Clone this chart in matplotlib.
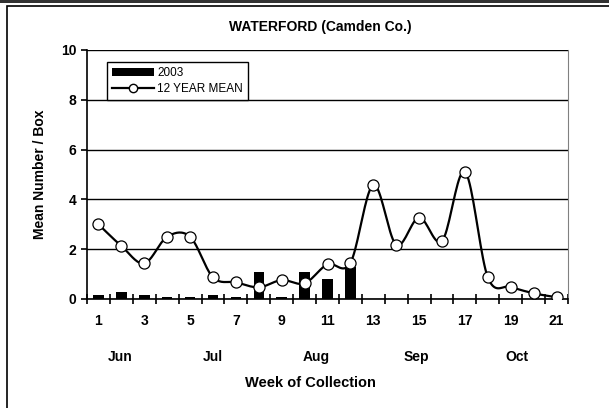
import numpy as np
import matplotlib
matplotlib.use('Agg')
import matplotlib.pyplot as plt
from matplotlib.patches import Rectangle
from matplotlib.lines import Line2D
import matplotlib.transforms as mtransforms

plt.rcParams['font.family'] = ['Liberation Sans', 'DejaVu Sans']

# data
weeks = list(range(1, 22))
bars_2003 = [0.18, 0.27, 0.18, 0.08, 0.08, 0.18, 0.08, 1.07, 0.08, 1.07, 0.79, 1.3,
             0, 0, 0, 0, 0, 0, 0, 0, 0]
mean_12yr = [3.0, 2.13, 1.43, 2.5, 2.5, 0.87, 0.67, 0.47, 0.76, 0.63, 1.39, 1.45,
             4.58, 2.18, 3.27, 2.33, 5.11, 0.87, 0.49, 0.23, 0.07]
tick_labels = ['1', '3', '5', '7', '9', '11', '13', '15', '17', '19', '21']
months = ['Jun', 'Jul', 'Aug', 'Sep', 'Oct']
month_pos = [1.95, 6.0, 10.5, 14.87, 19.27]


def smooth(x, y, n=20):
    # catmull-rom style smoothing like excel's smoothed line
    x = np.asarray(x, float)
    y = np.asarray(y, float)
    px = np.concatenate([[x[0]], x, [x[-1]]])
    py = np.concatenate([[y[0]], y, [y[-1]]])
    xs, ys = [], []
    t = np.linspace(0, 1, n)
    for i in range(1, len(px) - 2):
        p0 = np.array([px[i], py[i]])
        p3 = np.array([px[i + 1], py[i + 1]])
        c1 = p0 + (np.array([px[i + 1], py[i + 1]]) - np.array([px[i - 1], py[i - 1]])) / 6
        c2 = p3 - (np.array([px[i + 2], py[i + 2]]) - np.array([px[i], py[i]])) / 6
        b = ((1 - t) ** 3)[:, None] * p0 + (3 * (1 - t) ** 2 * t)[:, None] * c1 \
            + (3 * (1 - t) * t ** 2)[:, None] * c2 + (t ** 3)[:, None] * p3
        xs.extend(b[:, 0])
        ys.extend(b[:, 1])
    return np.array(xs), np.array(ys)


fig = plt.figure(figsize=(6.09, 4.08), dpi=100)
ax = fig.add_axes([87 / 609, 1 - 299 / 408, 481 / 609, 249 / 408])

# frame around the chart
fig.patches.append(Rectangle((7 / 609, -0.1), 1.2, 1 - 6 / 408 + 0.1, transform=fig.transFigure,
                             fill=False, edgecolor='black', linewidth=1.2))
fig.patches.append(Rectangle((0, 1 - 3 / 408), 1, 3 / 408, transform=fig.transFigure,
                             facecolor='#333333', edgecolor='none'))

bars = ax.bar(weeks, bars_2003, width=0.46, color='black', zorder=2)
sx, sy = smooth(weeks, mean_12yr)
ax.plot(sx, sy, color='black', linewidth=1.6, zorder=3)
ax.plot(weeks, mean_12yr, linestyle='none', marker='o', markersize=8,
        markerfacecolor='white', markeredgecolor='black', markeredgewidth=0.9, zorder=4)
mean_handle = Line2D([], [], color='black', linewidth=1.6, marker='o', markersize=6,
                     markerfacecolor='white', markeredgecolor='black')

ax.set_xlim(0.5, 21.5)
ax.set_ylim(0, 10)
ax.set_yticks([0, 2, 4, 6, 8, 10])
ax.set_xticks(np.arange(0.5, 22, 1))
ax.set_xticklabels([])
ax.set_xticks(weeks[::2], minor=True)
ax.set_xticklabels(tick_labels, minor=True, fontsize=10, fontweight='bold')
ax.tick_params(axis='x', which='major', direction='inout', length=7, width=1.2)
ax.tick_params(axis='x', which='minor', length=0, pad=11)
ax.tick_params(axis='y', direction='out', length=4, width=1.2, labelsize=10)
for lab in ax.get_yticklabels():
    lab.set_fontweight('bold')

ax.grid(axis='y', color='black', linewidth=1.0, zorder=0)
ax.set_axisbelow(True)
ax.spines['top'].set_visible(False)
ax.spines['right'].set_color('#808080')
ax.spines['left'].set_linewidth(1.2)
ax.spines['bottom'].set_linewidth(1.2)

trans = mtransforms.blended_transform_factory(ax.transData, fig.transFigure)
for m, p in zip(months, month_pos):
    ax.text(p, 1 - 357 / 408, m, transform=trans, ha='center', va='center',
            fontsize=10, fontweight='bold')

fig.text(310 / 609, 1 - 383 / 408, 'Week of Collection', ha='center', va='center',
         fontsize=10.5, fontweight='bold')
fig.text(40 / 609, 1 - 174 / 408, 'Mean Number / Box', ha='center', va='center',
         rotation=90, fontsize=10, fontweight='bold')
fig.text(320 / 609, 1 - 27 / 408, 'WATERFORD (Camden Co.)', ha='center', va='center',
         fontsize=10, fontweight='bold')

leg = ax.legend([bars, mean_handle], ['2003', '12 YEAR MEAN'],
                loc='upper left', bbox_to_anchor=(20 / 481, 237 / 249), borderaxespad=0,
                fancybox=False, edgecolor='black', framealpha=1, fontsize=8.5,
                handlelength=3.5, handletextpad=0.3, borderpad=0.45, labelspacing=0.3)
leg.get_frame().set_linewidth(1.0)

fig.savefig('out.png', dpi=100)
